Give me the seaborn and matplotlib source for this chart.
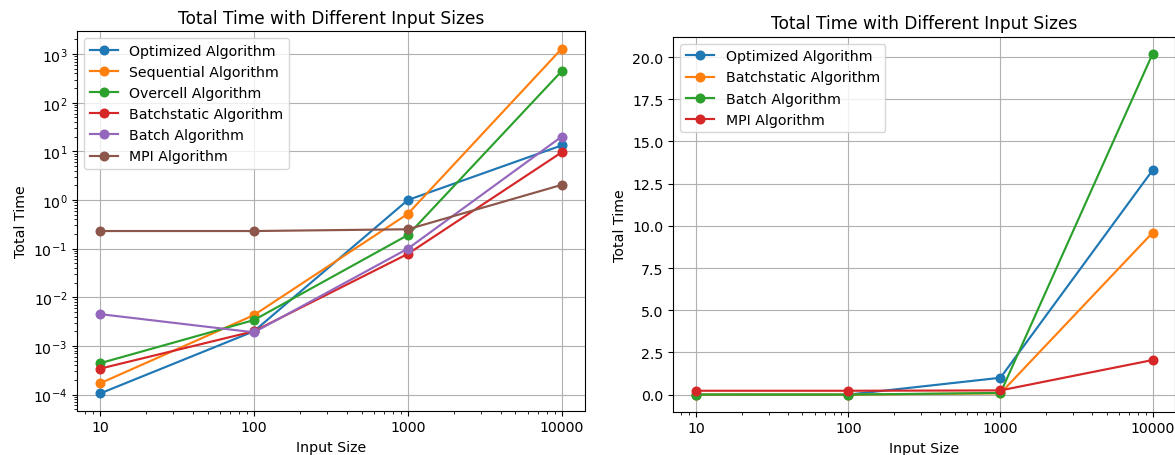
import matplotlib
matplotlib.use("Agg")
import matplotlib.pyplot as plt
import seaborn as sns
import pandas as pd
from matplotlib.ticker import FixedLocator, FixedFormatter

input_sizes = [10, 100, 1000, 10000]
tick_labels = ["10", "100", "1000", "10000"]

optimized = [1.05e-4, 2.0e-3, 1.0, 13.3]
sequential = [1.7e-4, 4.3e-3, 0.52, 1300]
overcell = [4.4e-4, 3.4e-3, 0.19, 450]
batchstatic = [3.4e-4, 2.0e-3, 0.078, 9.6]
batch = [4.5e-3, 1.9e-3, 0.10, 20.2]
mpi = [0.23, 0.23, 0.25, 2.05]

left_series = [
    ("Optimized Algorithm", optimized),
    ("Sequential Algorithm", sequential),
    ("Overcell Algorithm", overcell),
    ("Batchstatic Algorithm", batchstatic),
    ("Batch Algorithm", batch),
    ("MPI Algorithm", mpi),
]
right_series = [
    ("Optimized Algorithm", optimized),
    ("Batchstatic Algorithm", batchstatic),
    ("Batch Algorithm", batch),
    ("MPI Algorithm", mpi),
]

plt.rcParams["font.size"] = 10.2
palette = sns.color_palette("tab10")

fig = plt.figure(figsize=(11.75, 4.56), dpi=100)
ax1 = fig.add_axes([0.0655, 0.0971, 0.4323, 0.832])
ax2 = fig.add_axes([0.5730, 0.0950, 0.4274, 0.8224])


def draw(ax, series):
    for i, (name, vals) in enumerate(series):
        df = pd.DataFrame({"Input Size": input_sizes, "Total Time": vals})
        c = palette[i]
        sns.lineplot(data=df, x="Input Size", y="Total Time", ax=ax, color=c,
                     marker="o", markersize=6.2, markeredgecolor=c,
                     markeredgewidth=1, linewidth=1.55, label=name)
    ax.set_xscale("log")
    ax.xaxis.set_major_locator(FixedLocator(input_sizes))
    ax.xaxis.set_major_formatter(FixedFormatter(tick_labels))
    ax.grid(True, which="major", color="#b0b0b0", linewidth=0.8)
    ax.set_xlabel("Input Size")
    ax.set_ylabel("Total Time")
    ax.set_title("Total Time with Different Input Sizes", fontsize=12.24)
    ax.legend(loc="upper left")


draw(ax1, left_series)
ax1.set_yscale("log")
draw(ax2, right_series)

fig.savefig("out.png", dpi=100)
